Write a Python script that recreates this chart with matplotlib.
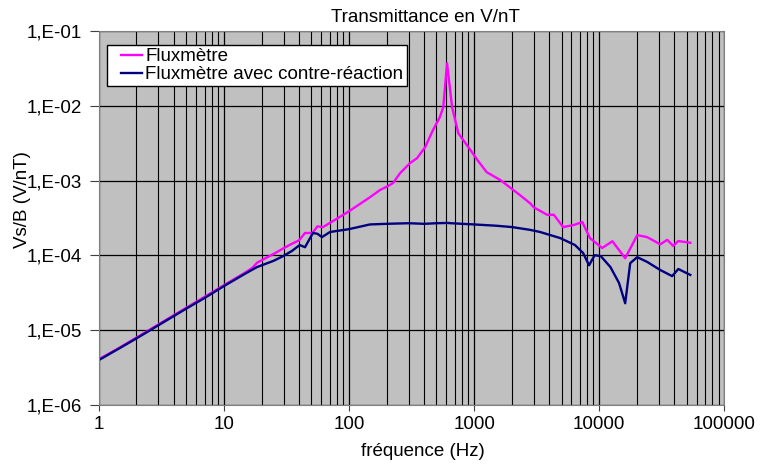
import numpy as np
import matplotlib
matplotlib.use("Agg")
import matplotlib.pyplot as plt
from matplotlib.lines import Line2D
from matplotlib.legend_handler import HandlerLine2D
from matplotlib.ticker import LogLocator, FuncFormatter, NullFormatter

# Fluxmètre seul
freq_flux = [1, 1.5, 2, 3, 5, 7, 10, 15, 17, 18.4, 21, 25, 30, 34, 40, 44.5, 51, 56, 62,
             80, 100, 147, 177, 200, 225, 256, 308, 350, 406, 468, 533, 567, 608, 667,
             748, 930, 1060, 1260, 1620, 2060, 2330, 2800, 3000, 3840, 4340, 5150, 6240,
             7330, 8460, 10570, 12750, 16140, 20140, 24200, 30760, 35000, 39100, 42900, 53500]
flux = [4.1e-6, 6.0e-6, 8.0e-6, 1.2e-5, 2.0e-5, 2.8e-5, 4.0e-5, 6.0e-5, 6.9e-5, 8.0e-5,
        9.0e-5, 1.05e-4, 1.25e-4, 1.4e-4, 1.6e-4, 2.0e-4, 2.0e-4, 2.45e-4, 2.4e-4,
        3.1e-4, 3.9e-4, 6.0e-4, 7.5e-4, 8.3e-4, 9.3e-4, 1.26e-3, 1.72e-3, 2.0e-3, 2.8e-3,
        4.7e-3, 7.1e-3, 9.6e-3, 3.7e-2, 9.6e-3, 4.3e-3, 2.6e-3, 1.9e-3, 1.3e-3, 1.02e-3,
        7.5e-4, 6.4e-4, 5.0e-4, 4.4e-4, 3.5e-4, 3.5e-4, 2.4e-4, 2.55e-4, 2.8e-4, 1.7e-4,
        1.26e-4, 1.55e-4, 9.2e-5, 1.87e-4, 1.76e-4, 1.41e-4, 1.62e-4, 1.34e-4, 1.56e-4, 1.48e-4]

# Fluxmètre avec contre-réaction
freq_cr = [1, 1.5, 2, 3, 5, 7, 10, 15, 18.4, 25, 29.7, 35, 40.4, 44.5, 51.5, 56, 60.8,
           70.5, 100, 147, 200, 300, 400, 500, 608, 800, 1000, 1500, 2000, 2805, 3373,
           4877, 6400, 7440, 8300, 9200, 10300, 12300, 14400, 16140, 17700, 20140, 24200,
           30760, 38300, 42900, 53500]
cr = [4.0e-6, 5.9e-6, 7.8e-6, 1.17e-5, 1.95e-5, 2.7e-5, 3.9e-5, 5.8e-5, 7.0e-5, 8.5e-5,
      9.8e-5, 1.15e-4, 1.38e-4, 1.29e-4, 2.0e-4, 1.95e-4, 1.76e-4, 2.06e-4, 2.25e-4,
      2.6e-4, 2.65e-4, 2.7e-4, 2.65e-4, 2.7e-4, 2.72e-4, 2.65e-4, 2.6e-4, 2.5e-4, 2.4e-4,
      2.2e-4, 2.06e-4, 1.71e-4, 1.38e-4, 1.08e-4, 7.4e-5, 1.01e-4, 9.8e-5, 7.0e-5, 4.3e-5,
      2.3e-5, 7.9e-5, 9.5e-5, 8.2e-5, 6.4e-5, 5.3e-5, 6.6e-5, 5.5e-5]

plt.rcParams['font.family'] = ['Liberation Sans', 'DejaVu Sans']
FS = 13.5

fig = plt.figure(figsize=(7.6, 4.7), dpi=100)
ax = fig.add_axes([0.130, 0.138, 0.823, 0.796])
ax.set_facecolor('#C0C0C0')

ax.plot(freq_flux, flux, color='#FF00FF', lw=1.7, label='Fluxmètre')
ax.plot(freq_cr, cr, color='#000080', lw=1.7, label='Fluxmètre avec contre-réaction')

ax.set_xscale('log')
ax.set_yscale('log')
ax.set_xlim(1, 100000)
ax.set_ylim(1e-6, 1e-1)

ax.xaxis.set_major_locator(LogLocator(base=10, numticks=10))
ax.xaxis.set_minor_locator(LogLocator(base=10, subs=np.arange(2, 10), numticks=20))
ax.xaxis.set_major_formatter(FuncFormatter(lambda v, p: f"{v:.0f}"))
ax.xaxis.set_minor_formatter(NullFormatter())
ax.yaxis.set_major_locator(LogLocator(base=10, numticks=10))
ax.yaxis.set_minor_locator(LogLocator(base=10, subs=[], numticks=10))
ax.yaxis.set_major_formatter(FuncFormatter(lambda v, p: f"1,E{int(round(np.log10(v))):+03d}"))
ax.yaxis.set_minor_formatter(NullFormatter())

ax.grid(True, which='major', color='black', lw=0.9)
ax.grid(True, which='minor', axis='x', color='black', lw=0.8)
ax.set_axisbelow(True)

ax.tick_params(axis='y', which='major', labelsize=FS, length=6.5, color='#404040', pad=5.5)
ax.tick_params(axis='x', which='major', labelsize=FS, length=4, color='#404040', pad=4)
ax.tick_params(axis='both', which='minor', length=0)
for side in ax.spines.values():
    side.set_color('#808080')

ax.set_title('Transmittance en V/nT', fontsize=FS, x=0.523, pad=6.5)
ax.set_xlabel('fréquence (Hz)', fontsize=FS)
ax.xaxis.set_label_coords(0.518, -0.10)
ax.set_ylabel('Vs/B (V/nT)', fontsize=FS)
ax.yaxis.set_label_coords(-0.108, 0.55)

leg = ax.legend(loc='upper left', bbox_to_anchor=(0.0128, 0.9626), fontsize=FS, frameon=True,
                fancybox=False, edgecolor='black', framealpha=1, handlelength=1.7,
                handletextpad=0.2, borderpad=0.16, labelspacing=0.05, borderaxespad=0,
                handler_map={Line2D: HandlerLine2D(xpad=0.6)})
leg.get_frame().set_linewidth(1.0)

fig.savefig('out.png', dpi=100)
